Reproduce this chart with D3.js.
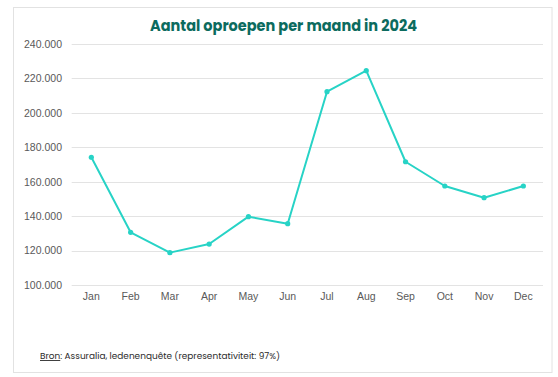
<!DOCTYPE html>
<html><head><meta charset="utf-8">
<script src="https://cdn.jsdelivr.net/npm/d3@7"></script>
<style>html,body{margin:0;padding:0;background:#fff;}svg{display:block;}</style>
</head><body>
<svg id="c" width="558" height="377"></svg>
<script>
const months = ["Jan","Feb","Mar","Apr","May","Jun","Jul","Aug","Sep","Oct","Nov","Dec"];
const calls = [174200,130600,118800,123800,139700,135600,212300,224500,171600,157500,150700,157500];
const yTicks = [100000,120000,140000,160000,180000,200000,220000,240000];
const title = "Aantal oproepen per maand in 2024";
const sourceLabel = "Bron";
const sourceText = ": Assuralia, ledenenquête (representativiteit: 97%)";

const svg = d3.select("#c");
svg.append("rect").attr("x",13.5).attr("y",7.5).attr("width",538.5).attr("height",365)
  .attr("fill","#fff").attr("stroke","#e2e2e2").attr("stroke-width",1);

const x = d3.scaleBand().domain(months).range([71.7,543]);
const y = d3.scaleLinear().domain([100000,240000]).range([285,44]);
const fmt = v => d3.format(",")(v).replace(/,/g,".");

const grid = svg.append("g");
grid.selectAll("line").data(yTicks).join("line")
  .attr("x1",71.7).attr("x2",543).attr("y1",d=>Math.round(y(d))+0.5).attr("y2",d=>Math.round(y(d))+0.5)
  .attr("stroke","#e3e3e3").attr("stroke-width",1);

const yAxis = svg.append("g").attr("transform","translate(62,0)")
  .call(d3.axisLeft(y).tickValues(yTicks).tickFormat(fmt).tickSize(0).tickPadding(0));
yAxis.select(".domain").remove();
yAxis.selectAll("text").attr("fill","#595959").attr("font-family","Liberation Sans, Arial, sans-serif").attr("font-size","10.5px");

const xAxis = svg.append("g").attr("transform","translate(0,293)")
  .call(d3.axisBottom(x).tickSize(0).tickPadding(0));
xAxis.select(".domain").remove();
xAxis.selectAll("text").attr("fill","#595959").attr("font-family","Liberation Sans, Arial, sans-serif").attr("font-size","10.5px");

const cx = m => x(m) + x.bandwidth()/2;
const data = months.map((m,i)=>({m,v:calls[i]}));
svg.append("path").datum(data)
  .attr("fill","none").attr("stroke","#27d3c6").attr("stroke-width",2).attr("stroke-linejoin","round")
  .attr("d", d3.line().x(d=>cx(d.m)).y(d=>y(d.v)));
svg.selectAll("circle.pt").data(data).join("circle").attr("class","pt")
  .attr("cx",d=>cx(d.m)).attr("cy",d=>y(d.v)).attr("r",2.6).attr("fill","#27d3c6");

svg.append("text").attr("x",283.5).attr("y",31).attr("text-anchor","middle")
  .attr("font-family","Poppins, Lato, 'Open Sans', sans-serif").attr("font-weight","bold")
  .attr("font-size","15.5px").attr("fill","#0c6b5e")
  .attr("textLength",267).attr("lengthAdjust","spacingAndGlyphs").text(title);

const src = svg.append("text").attr("x",40).attr("y",359)
  .attr("font-family","Poppins, 'Open Sans', sans-serif").attr("font-size","9px").attr("fill","#2b2b2b")
  .attr("textLength",240).attr("lengthAdjust","spacingAndGlyphs");
src.append("tspan").attr("text-decoration","underline").text(sourceLabel);
src.append("tspan").text(sourceText);
</script>
</body></html>
